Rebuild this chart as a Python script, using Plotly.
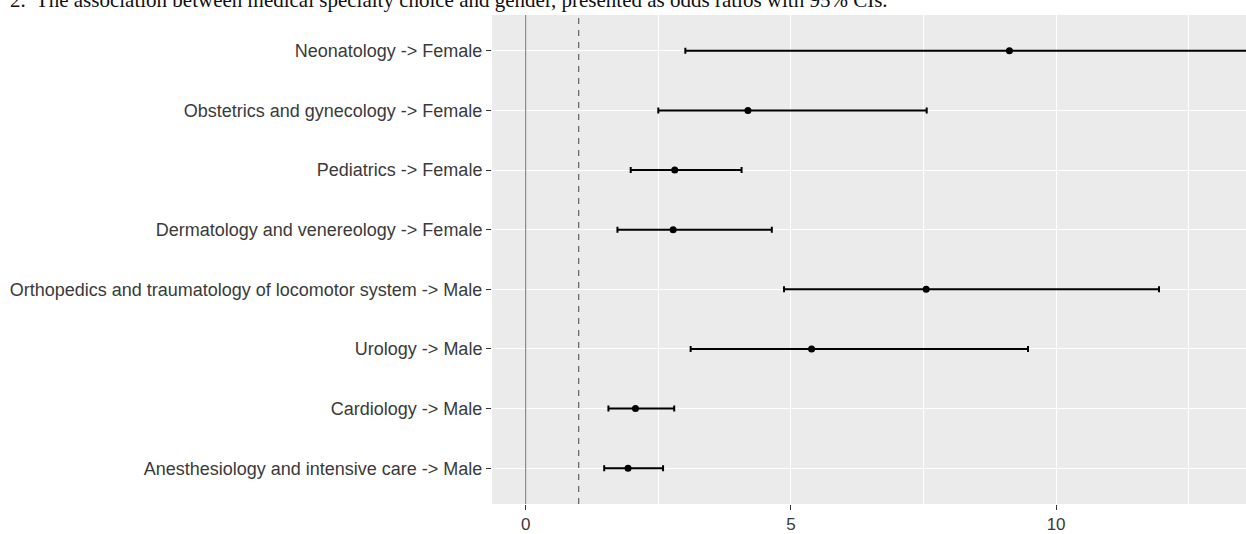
import plotly.graph_objects as go

categories = [
    "Anesthesiology and intensive care -> Male",
    "Cardiology -> Male",
    "Urology -> Male",
    "Orthopedics and traumatology of locomotor system -> Male",
    "Dermatology and venereology -> Female",
    "Pediatrics -> Female",
    "Obstetrics and gynecology -> Female",
    "Neonatology -> Female",
]
odds_ratio = [1.93, 2.07, 5.39, 7.55, 2.78, 2.81, 4.19, 9.12]
ci_lower = [1.48, 1.56, 3.11, 4.87, 1.73, 1.98, 2.50, 3.01]
ci_upper = [2.59, 2.80, 9.47, 11.94, 4.64, 4.07, 7.56, 28.0]
x_ticks = [0, 5, 10]
title_text = "2.  The association between medical specialty choice and gender, presented as odds ratios with 95% CIs."

err_plus = [u - o for u, o in zip(ci_upper, odds_ratio)]
err_minus = [o - l for o, l in zip(odds_ratio, ci_lower)]

fig = go.Figure()
fig.add_trace(go.Scatter(
    x=odds_ratio, y=categories, mode="markers",
    marker=dict(color="black", size=7),
    error_x=dict(type="data", symmetric=False, array=err_plus, arrayminus=err_minus,
                 color="black", thickness=2, width=3),
    showlegend=False,
))

# reference lines
fig.add_shape(type="line", x0=0, x1=0, y0=0, y1=1, xref="x", yref="paper",
              line=dict(color="#555555", width=0.8), layer="above")
fig.add_shape(type="line", x0=1, x1=1, y0=0, y1=1, xref="x", yref="paper",
              line=dict(color="#444444", width=1, dash="6px,6px"), layer="above")

fig.add_annotation(text=title_text, xref="paper", yref="paper",
                   x=(8 - 492) / 754, y=(507 + 0) / 492, xanchor="left", yanchor="middle",
                   showarrow=False,
                   font=dict(family="Liberation Serif", size=21, color="#111111"))

fig.update_layout(
    width=1246, height=534,
    margin=dict(l=492, r=0, t=15, b=27),
    paper_bgcolor="white", plot_bgcolor="#EBEBEB",
    font=dict(family="Liberation Sans", size=16, color="#3a3a3a"),
)
fig.update_xaxes(
    range=[-0.635, 13.58], tickvals=x_ticks, ticktext=[str(v) for v in x_ticks],
    showgrid=True, gridcolor="white", gridwidth=1.2,
    minor=dict(dtick=2.5, tick0=0, showgrid=True, gridcolor="white", gridwidth=0.6, ticks=""),
    zeroline=False, showline=False,
    ticks="outside", ticklen=5, tickwidth=1.2, tickcolor="#333333",
    tickfont=dict(size=17, color="#3a3a3a"),
)
fig.update_yaxes(
    type="category", categoryorder="array", categoryarray=categories,
    range=[-0.6, 7.6],
    showgrid=True, gridcolor="white", gridwidth=1.2,
    zeroline=False, showline=False,
    ticks="outside", ticklen=5, tickwidth=1.2, tickcolor="#333333",
    tickfont=dict(size=18, color="#3a3a3a"),
)

fig.write_html("out.html", config={"displayModeBar": False},
               post_script="document.body.style.margin='0';document.body.style.overflow='hidden';")
